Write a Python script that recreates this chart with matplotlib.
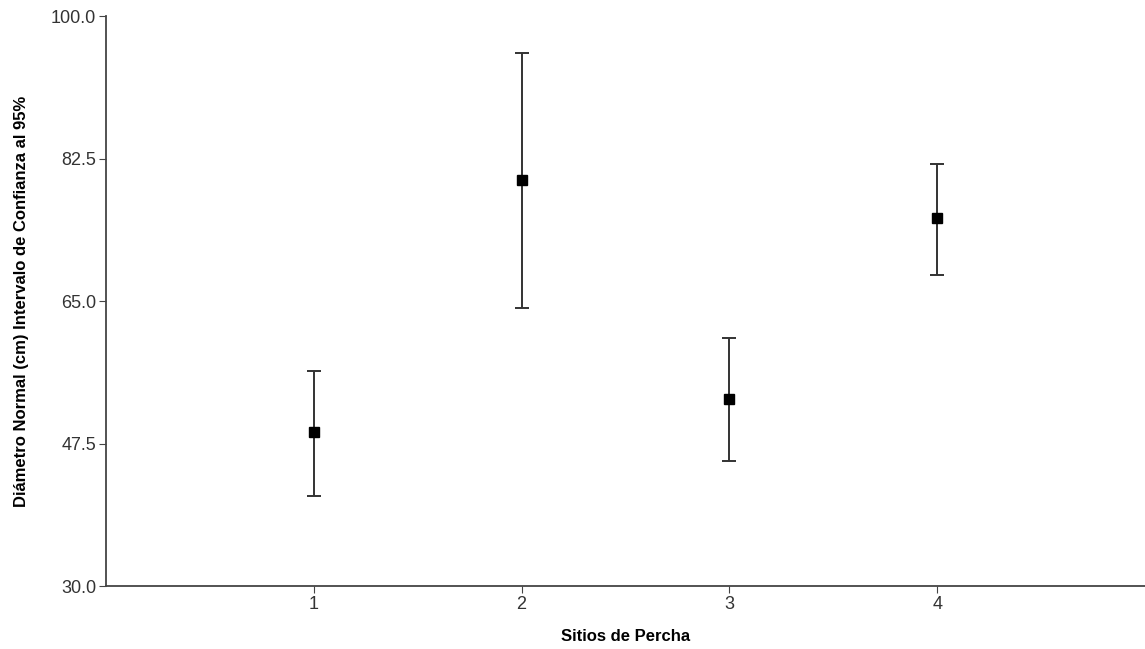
import matplotlib.pyplot as plt

# Sitios de percha: media e IC 95%
sitios = [1, 2, 3, 4]
media = [48.9, 79.9, 53.0, 75.2]
ic_inf = [41.1, 64.1, 45.4, 68.2]
ic_sup = [56.4, 95.5, 60.5, 81.8]

plt.rcParams['font.family'] = ['Liberation Sans', 'DejaVu Sans']

fig = plt.figure(figsize=(11.45, 6.49), dpi=100)
ax = fig.add_axes([0.0926, 0.097, 0.9074, 0.878])

err_low = [m - lo for m, lo in zip(media, ic_inf)]
err_high = [hi - m for m, hi in zip(media, ic_sup)]
ax.errorbar(sitios, media, yerr=[err_low, err_high], fmt='s', color='black',
            ecolor='#333333', elinewidth=1.4, capsize=5, capthick=1.4,
            markersize=7)

ax.set_xlim(0, 5)
ax.set_ylim(30, 100)
ax.set_xticks(sitios)
ax.set_yticks([30, 47.5, 65, 82.5, 100])
ax.set_yticklabels(['30.0', '47.5', '65.0', '82.5', '100.0'])
ax.tick_params(labelsize=13, length=5, color='#444444', labelcolor='#333333', pad=2)

for s in ['top', 'right']:
    ax.spines[s].set_visible(False)
for s in ['left', 'bottom']:
    ax.spines[s].set_color('#444444')
    ax.spines[s].set_linewidth(1.3)

ax.set_xlabel('Sitios de Percha', fontsize=12, fontweight='bold', labelpad=12)
ax.set_ylabel('Diámetro Normal (cm) Intervalo de Confianza al 95%', fontsize=12,
              fontweight='bold', labelpad=16)

plt.savefig('out.png', dpi=100)
